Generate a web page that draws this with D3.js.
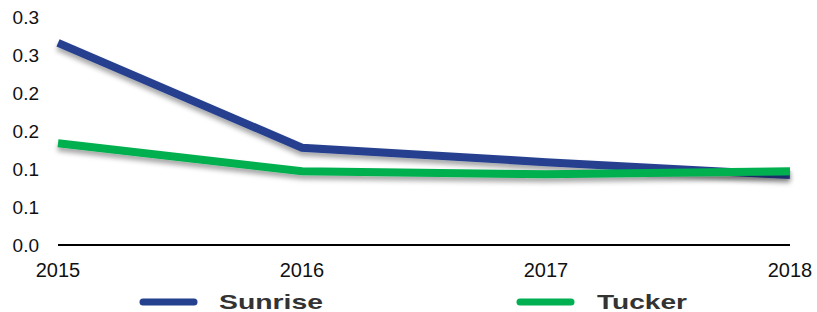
<!DOCTYPE html>
<html lang="en">
<head>
<meta charset="UTF-8">
<title>Sunrise vs Tucker</title>
<script src="https://d3js.org/d3.v7.min.js"></script>
<style>
  body { margin: 0; background: #fff; }
  text { font-family: "Liberation Sans", Arial, sans-serif; }
</style>
</head>
<body>
<div id="chart"></div>
<script>
// data
var years = ["2015", "2016", "2017", "2018"];
var sunrise = [0.266, 0.128, 0.109, 0.092];
var tucker = [0.134, 0.097, 0.093, 0.097];
var yTicks = [0, 0.05, 0.1, 0.15, 0.2, 0.25, 0.3];
// the source rounds half up, so 0.05 shows as 0.1 etc
var yTickLabels = ["0.0", "0.1", "0.1", "0.2", "0.2", "0.3", "0.3"];
var seriesNames = ["Sunrise", "Tucker"];
var seriesColors = ["#25408f", "#00b050"];

var W = 817, H = 312;
var svg = d3.select("#chart").append("svg")
  .attr("width", W).attr("height", H);

var defs = svg.append("defs");
var f = defs.append("filter").attr("id", "shadow")
  .attr("x", "-5%").attr("y", "-20%").attr("width", "110%").attr("height", "160%");
f.append("feDropShadow").attr("dx", 0).attr("dy", 4).attr("stdDeviation", 2.5)
  .attr("flood-color", "#000").attr("flood-opacity", 0.35);

var x = d3.scalePoint().domain(years).range([58, 790]);
var y = d3.scaleLinear().domain([0, 0.3]).range([245, 17]);

// y tick labels
svg.append("g").selectAll("text")
  .data(yTicks).enter().append("text")
  .attr("x", 39)
  .attr("y", function(d) { return y(d) + 7; })
  .attr("text-anchor", "end")
  .style("font-size", "19px")
  .style("fill", "#111")
  .text(function(d, i) { return yTickLabels[i]; });

// x axis line
svg.append("line")
  .attr("x1", x(years[0])).attr("x2", x(years[3]))
  .attr("y1", y(0)).attr("y2", y(0))
  .attr("stroke", "#000").attr("stroke-width", 2);

svg.append("g").selectAll("text")
  .data(years).enter().append("text")
  .attr("x", function(d) { return x(d); })
  .attr("y", 277)
  .attr("text-anchor", "middle")
  .style("font-size", "20px")
  .style("fill", "#111")
  .text(function(d) { return d; });

var line = d3.line()
  .x(function(d, i) { return x(years[i]); })
  .y(function(d) { return y(d); });

[sunrise, tucker].forEach(function(s, k) {
  svg.append("path")
    .datum(s)
    .attr("d", line)
    .attr("fill", "none")
    .attr("stroke", seriesColors[k])
    .attr("stroke-width", 8)
    .attr("filter", "url(#shadow)");
});

// legend
var legX = [140, 517];
var legTextX = [219, 597];
var legTextW = [104, 90];
seriesNames.forEach(function(n, k) {
  svg.append("line")
    .attr("x1", legX[k] + 3).attr("x2", legX[k] + 54)
    .attr("y1", 302).attr("y2", 302)
    .attr("stroke", seriesColors[k]).attr("stroke-width", 7)
    .attr("stroke-linecap", "round");
  svg.append("text")
    .attr("x", legTextX[k]).attr("y", 309)
    .attr("textLength", legTextW[k])
    .attr("lengthAdjust", "spacingAndGlyphs")
    .style("font-size", "21px")
    .style("font-weight", "bold")
    .style("fill", "#333")
    .text(n);
});
</script>
</body>
</html>
